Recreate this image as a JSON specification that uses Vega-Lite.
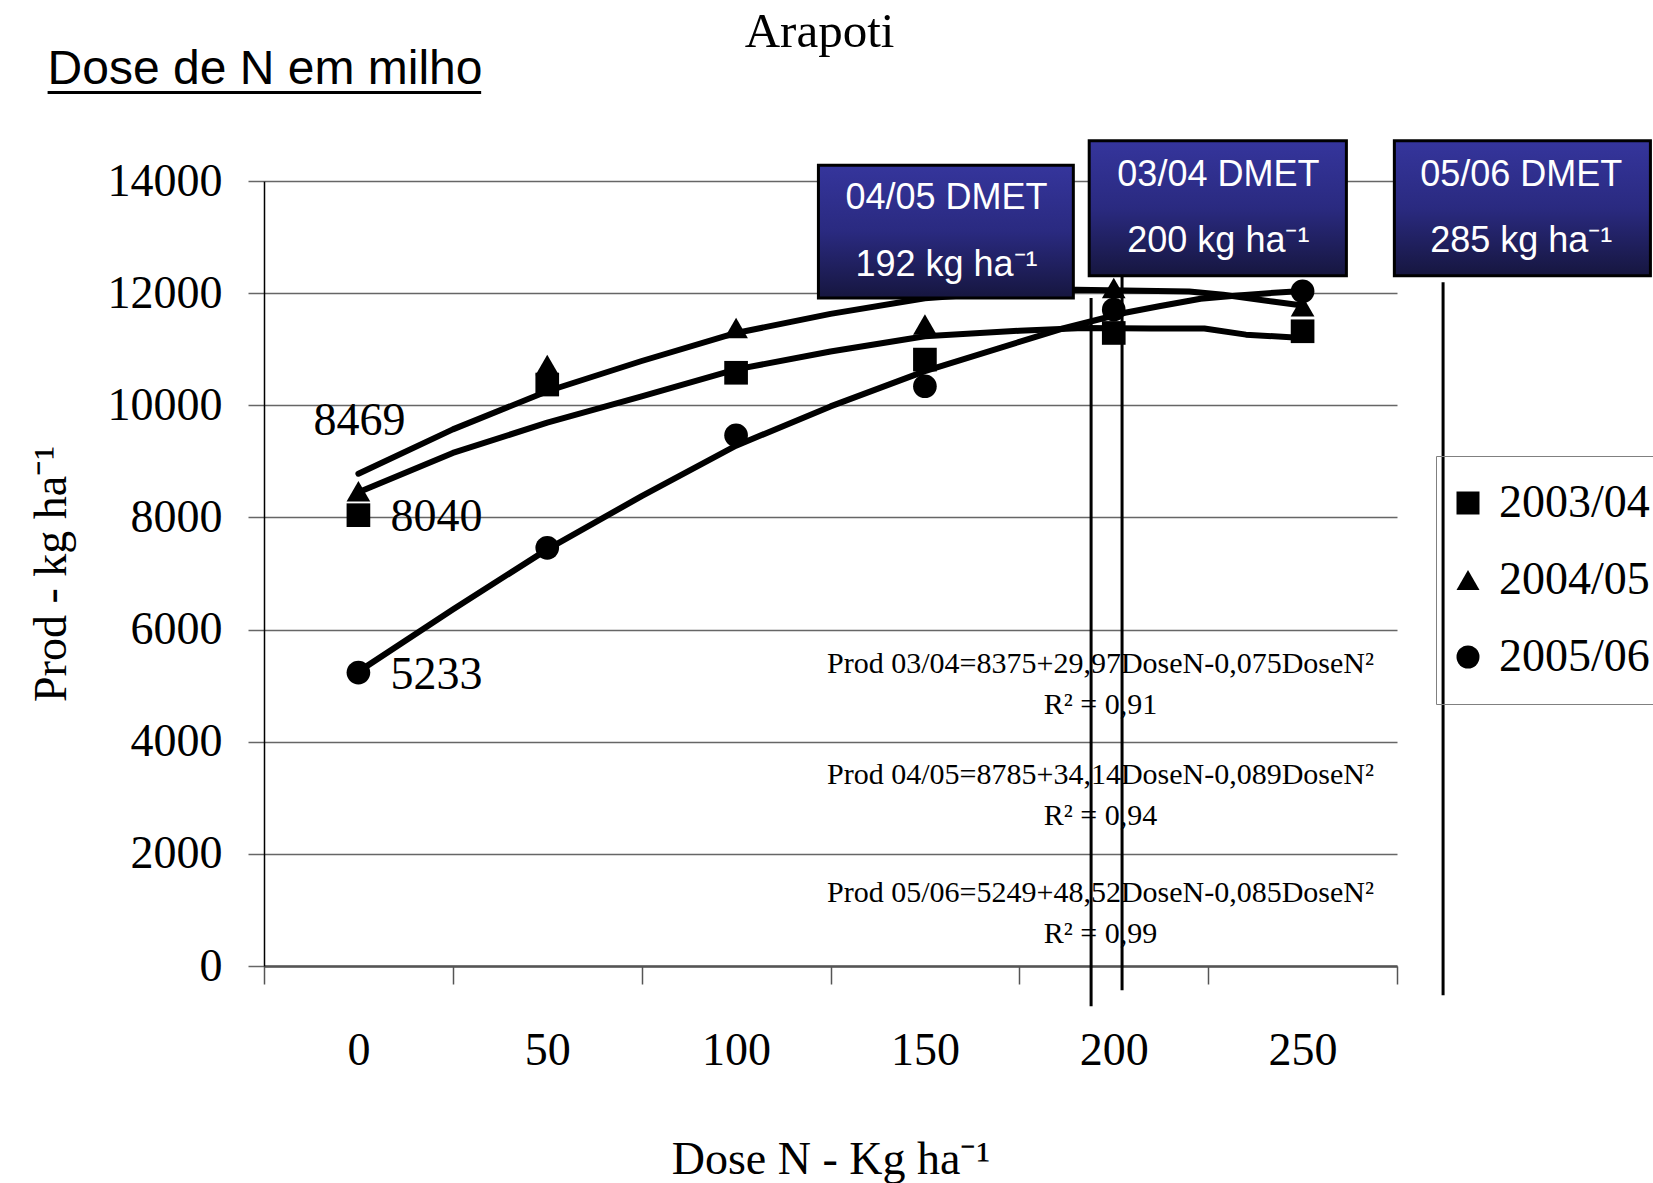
{
  "$schema": "https://vega.github.io/schema/vega-lite/v6.json",
  "width": 1133,
  "height": 785,
  "autosize": {"type": "none"},
  "padding": {"left": 264, "top": 181, "right": 256, "bottom": 217},
  "background": "white",
  "config": {"view": {"stroke": null}},
  "datasets": {
    "points": [
      {"season": "2003/04", "dose": 0, "prod": 8040},
      {"season": "2003/04", "dose": 50, "prod": 10370},
      {"season": "2003/04", "dose": 100, "prod": 10580},
      {"season": "2003/04", "dose": 150, "prod": 10815},
      {"season": "2003/04", "dose": 200, "prod": 11290},
      {"season": "2003/04", "dose": 250, "prod": 11320},
      {"season": "2004/05", "dose": 0, "prod": 8469},
      {"season": "2004/05", "dose": 50, "prod": 10720},
      {"season": "2004/05", "dose": 100, "prod": 11380},
      {"season": "2004/05", "dose": 150, "prod": 11440},
      {"season": "2004/05", "dose": 200, "prod": 12090},
      {"season": "2004/05", "dose": 250, "prod": 11765},
      {"season": "2005/06", "dose": 0, "prod": 5233},
      {"season": "2005/06", "dose": 50, "prod": 7458},
      {"season": "2005/06", "dose": 100, "prod": 9465},
      {"season": "2005/06", "dose": 150, "prod": 10339},
      {"season": "2005/06", "dose": 200, "prod": 11706},
      {"season": "2005/06", "dose": 250, "prod": 12032}
    ],
    "curves": [
      {"season": "2003/04", "dose": 0, "prod": 8450},
      {"season": "2003/04", "dose": 25, "prod": 9150},
      {"season": "2003/04", "dose": 50, "prod": 9690},
      {"season": "2003/04", "dose": 75, "prod": 10160},
      {"season": "2003/04", "dose": 100, "prod": 10640},
      {"season": "2003/04", "dose": 125, "prod": 10960},
      {"season": "2003/04", "dose": 150, "prod": 11230},
      {"season": "2003/04", "dose": 175, "prod": 11330},
      {"season": "2003/04", "dose": 192, "prod": 11380},
      {"season": "2003/04", "dose": 210, "prod": 11370},
      {"season": "2003/04", "dose": 224, "prod": 11370},
      {"season": "2003/04", "dose": 235, "prod": 11260},
      {"season": "2003/04", "dose": 250, "prod": 11200},
      {"season": "2004/05", "dose": 0, "prod": 8780},
      {"season": "2004/05", "dose": 25, "prod": 9570},
      {"season": "2004/05", "dose": 50, "prod": 10250},
      {"season": "2004/05", "dose": 75, "prod": 10790},
      {"season": "2004/05", "dose": 100, "prod": 11290},
      {"season": "2004/05", "dose": 125, "prod": 11630},
      {"season": "2004/05", "dose": 150, "prod": 11910},
      {"season": "2004/05", "dose": 175, "prod": 12030},
      {"season": "2004/05", "dose": 190, "prod": 12060},
      {"season": "2004/05", "dose": 220, "prod": 12030},
      {"season": "2004/05", "dose": 229, "prod": 11970},
      {"season": "2004/05", "dose": 242, "prod": 11850},
      {"season": "2004/05", "dose": 250, "prod": 11780},
      {"season": "2005/06", "dose": 0, "prod": 5250},
      {"season": "2005/06", "dose": 25, "prod": 6360},
      {"season": "2005/06", "dose": 50, "prod": 7430},
      {"season": "2005/06", "dose": 75, "prod": 8380},
      {"season": "2005/06", "dose": 100, "prod": 9280},
      {"season": "2005/06", "dose": 125, "prod": 9980},
      {"season": "2005/06", "dose": 150, "prod": 10610},
      {"season": "2005/06", "dose": 175, "prod": 11130},
      {"season": "2005/06", "dose": 186, "prod": 11360},
      {"season": "2005/06", "dose": 203, "prod": 11650},
      {"season": "2005/06", "dose": 212, "prod": 11765},
      {"season": "2005/06", "dose": 223, "prod": 11900},
      {"season": "2005/06", "dose": 232, "prod": 11955},
      {"season": "2005/06", "dose": 241, "prod": 12000},
      {"season": "2005/06", "dose": 250, "prod": 12040}
    ],
    "one": [{}]
  },
  "layer": [
    {
      "data": {"name": "curves"},
      "mark": {"type": "line", "color": "black", "strokeWidth": 6, "strokeCap": "round", "strokeJoin": "round"},
      "encoding": {
        "x": {
          "field": "dose", "type": "quantitative",
          "scale": {"domain": [-25, 275], "nice": false, "zero": false},
          "axis": {
            "values": [-25, 0, 25, 50, 75, 100, 125, 150, 175, 200, 225, 250, 275],
            "format": "d",
            "labelExpr": "datum.value % 50 === 0 ? datum.label : ''",
            "labelOverlap": false,
            "labelFlush": false,
            "labelFont": "Liberation Serif",
            "labelFontSize": 46,
            "labelColor": "black",
            "labelPadding": 44,
            "tickSize": 18,
            "tickColor": "#555555",
            "tickWidth": 1.5,
            "tickOpacity": {"condition": {"test": "datum.value % 50 === 0", "value": 0}, "value": 1},
            "domainColor": "#555555",
            "domainWidth": 2.5,
            "grid": false,
            "title": "Dose N - Kg ha⁻¹",
            "titleFont": "Liberation Serif",
            "titleFontSize": 46,
            "titleFontWeight": "normal",
            "titleColor": "black",
            "titlePadding": 64
          }
        },
        "y": {
          "field": "prod", "type": "quantitative",
          "scale": {"domain": [0, 14000], "nice": false},
          "axis": {
            "values": [0, 2000, 4000, 6000, 8000, 10000, 12000, 14000],
            "format": "d",
            "labelFont": "Liberation Serif",
            "labelFontSize": 46,
            "labelColor": "black",
            "labelPadding": 26,
            "tickSize": 16,
            "tickColor": "#666666",
            "tickWidth": 1.5,
            "domainColor": "black",
            "domainWidth": 1.5,
            "grid": true,
            "gridColor": "#666666",
            "gridWidth": 1.5,
            "title": "Prod - kg ha⁻¹",
            "titleFont": "Liberation Serif",
            "titleFontSize": 46,
            "titleFontWeight": "normal",
            "titleColor": "black",
            "titlePadding": 32
          }
        },
        "detail": {"field": "season"}
      }
    },
    {
      "data": {"name": "points"},
      "mark": {"type": "point", "filled": true, "color": "black", "opacity": 1, "size": 560},
      "encoding": {
        "x": {"field": "dose", "type": "quantitative"},
        "y": {"field": "prod", "type": "quantitative"},
        "shape": {
          "field": "season", "type": "nominal",
          "scale": {"domain": ["2003/04", "2004/05", "2005/06"], "range": ["square", "triangle-up", "circle"]},
          "legend": {
            "orient": "none", "legendX": 1172, "legendY": 275,
            "title": null,
            "padding": 24,
            "strokeColor": "#808080",
            "symbolSize": 529,
            "symbolOffset": -15,
            "symbolFillColor": "black",
            "symbolStrokeColor": "black",
            "symbolStrokeWidth": 0,
            "labelFont": "Liberation Serif",
            "labelFontSize": 46,
            "labelColor": "black",
            "labelOffset": 8,
            "rowPadding": 31,
            "labelLimit": 400
          }
        }
      }
    },
    {
      "data": {"name": "points"},
      "transform": [{"filter": "datum.dose === 0 && datum.season !== '2004/05'"}],
      "mark": {"type": "text", "align": "left", "baseline": "middle", "dx": 32, "dy": 2, "font": "Liberation Serif", "fontSize": 46, "color": "black"},
      "encoding": {
        "x": {"field": "dose", "type": "quantitative"},
        "y": {"field": "prod", "type": "quantitative"},
        "text": {"field": "prod", "type": "quantitative", "format": "d"}
      }
    },
    {
      "data": {"name": "points"},
      "transform": [{"filter": "datum.dose === 0 && datum.season === '2004/05'"}],
      "mark": {"type": "text", "align": "left", "baseline": "middle", "dx": -45, "dy": -70, "font": "Liberation Serif", "fontSize": 46, "color": "black"},
      "encoding": {
        "x": {"field": "dose", "type": "quantitative"},
        "y": {"field": "prod", "type": "quantitative"},
        "text": {"field": "prod", "type": "quantitative", "format": "d"}
      }
    },
    {
      "data": {"name": "one"},
      "mark": {"type": "rule", "color": "black", "strokeWidth": 3},
      "encoding": {"x": {"datum": 194}, "y": {"datum": 11914}, "y2": {"datum": -718}}
    },
    {
      "data": {"name": "one"},
      "mark": {"type": "rule", "color": "black", "strokeWidth": 3},
      "encoding": {"x": {"datum": 202.2}, "y": {"datum": 12312}, "y2": {"datum": -433}}
    },
    {
      "data": {"name": "one"},
      "mark": {"type": "rule", "color": "black", "strokeWidth": 3},
      "encoding": {"x": {"datum": 287.2}, "y": {"datum": 12196}, "y2": {"datum": -522}}
    },
    {
      "data": {"name": "one"},
      "mark": {"type": "rect", "stroke": "black", "strokeWidth": 3,
        "fill": {"gradient": "linear", "x1": 0, "y1": 0, "x2": 0, "y2": 1, "stops": [{"offset": 0, "color": "#35359c"}, {"offset": 0.5, "color": "#2a2a80"}, {"offset": 1, "color": "#16163f"}]}},
      "encoding": {"x": {"datum": 121.8}, "x2": {"datum": 189.3}, "y": {"datum": 14282}, "y2": {"datum": 11914}}
    },
    {
      "data": {"name": "one"},
      "mark": {"type": "rect", "stroke": "black", "strokeWidth": 3,
        "fill": {"gradient": "linear", "x1": 0, "y1": 0, "x2": 0, "y2": 1, "stops": [{"offset": 0, "color": "#35359c"}, {"offset": 0.5, "color": "#2a2a80"}, {"offset": 1, "color": "#16163f"}]}},
      "encoding": {"x": {"datum": 193.5}, "x2": {"datum": 261.6}, "y": {"datum": 14718}, "y2": {"datum": 12312}}
    },
    {
      "data": {"name": "one"},
      "mark": {"type": "rect", "stroke": "black", "strokeWidth": 3,
        "fill": {"gradient": "linear", "x1": 0, "y1": 0, "x2": 0, "y2": 1, "stops": [{"offset": 0, "color": "#35359c"}, {"offset": 0.5, "color": "#2a2a80"}, {"offset": 1, "color": "#16163f"}]}},
      "encoding": {"x": {"datum": 274.3}, "x2": {"datum": 342.1}, "y": {"datum": 14718}, "y2": {"datum": 12312}}
    },
    {
      "data": {"name": "one"},
      "mark": {"type": "text", "align": "center", "baseline": "middle", "font": "Liberation Sans", "fontSize": 36, "color": "white", "lineHeight": 67, "text": ["04/05 DMET", "192 kg ha⁻¹"]},
      "encoding": {"x": {"datum": 155.7}, "y": {"datum": 13702}}
    },
    {
      "data": {"name": "one"},
      "mark": {"type": "text", "align": "center", "baseline": "middle", "font": "Liberation Sans", "fontSize": 36, "color": "white", "lineHeight": 66, "text": ["03/04 DMET", "200 kg ha⁻¹"]},
      "encoding": {"x": {"datum": 227.7}, "y": {"datum": 14113}}
    },
    {
      "data": {"name": "one"},
      "mark": {"type": "text", "align": "center", "baseline": "middle", "font": "Liberation Sans", "fontSize": 36, "color": "white", "lineHeight": 66, "text": ["05/06 DMET", "285 kg ha⁻¹"]},
      "encoding": {"x": {"datum": 307.9}, "y": {"datum": 14113}}
    },
    {
      "data": {"name": "one"},
      "mark": {"type": "text", "align": "center", "baseline": "middle", "font": "Liberation Serif", "fontSize": 30, "color": "black", "lineHeight": 41, "text": ["Prod 03/04=8375+29,97DoseN-0,075DoseN²", "R² = 0,91"]},
      "encoding": {"x": {"datum": 196.5}, "y": {"datum": 5378}}
    },
    {
      "data": {"name": "one"},
      "mark": {"type": "text", "align": "center", "baseline": "middle", "font": "Liberation Serif", "fontSize": 30, "color": "black", "lineHeight": 41, "text": ["Prod 04/05=8785+34,14DoseN-0,089DoseN²", "R² = 0,94"]},
      "encoding": {"x": {"datum": 196.5}, "y": {"datum": 3399}}
    },
    {
      "data": {"name": "one"},
      "mark": {"type": "text", "align": "center", "baseline": "middle", "font": "Liberation Serif", "fontSize": 30, "color": "black", "lineHeight": 41, "text": ["Prod 05/06=5249+48,52DoseN-0,085DoseN²", "R² = 0,99"]},
      "encoding": {"x": {"datum": 196.5}, "y": {"datum": 1296}}
    },
    {
      "data": {"name": "one"},
      "mark": {"type": "text", "align": "center", "baseline": "middle", "font": "Liberation Serif", "fontSize": 49, "color": "black", "text": "Arapoti"},
      "encoding": {"x": {"datum": 122.1}, "y": {"datum": 16661}}
    },
    {
      "data": {"name": "one"},
      "mark": {"type": "text", "align": "left", "baseline": "middle", "font": "Liberation Sans", "fontSize": 48, "color": "black", "text": "Dose de N em milho"},
      "encoding": {"x": {"datum": -82.3}, "y": {"datum": 15975}}
    },
    {
      "data": {"name": "one"},
      "mark": {"type": "rule", "color": "black", "strokeWidth": 3},
      "encoding": {"x": {"datum": -82.3}, "x2": {"datum": 32.5}, "y": {"datum": 15578}}
    }
  ]
}
